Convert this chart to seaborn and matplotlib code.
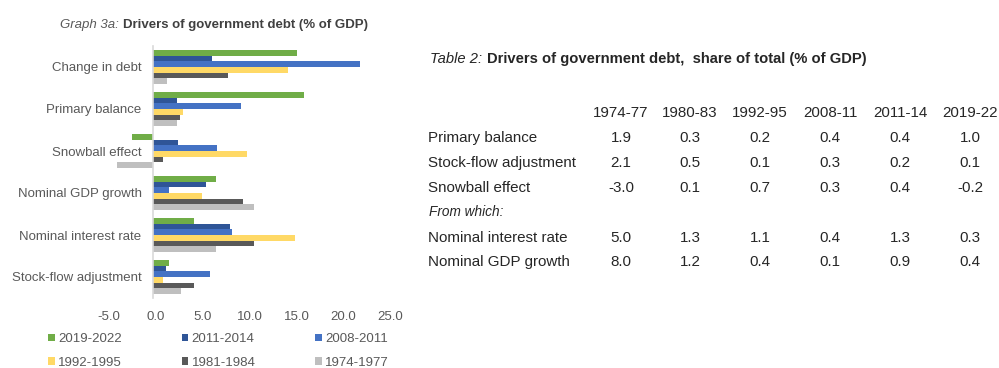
import matplotlib
matplotlib.use("Agg")
import matplotlib.pyplot as plt
from matplotlib.patches import Patch
from matplotlib.transforms import ScaledTranslation
import seaborn as sns
import pandas as pd
import numpy as np

sns.set_style("white")
plt.rcParams["font.family"] = ["Liberation Sans", "DejaVu Sans"]

# ---- Graph 3a data -------------------------------------------------------
drivers = ["Change in debt", "Primary balance", "Snowball effect",
           "Nominal GDP growth", "Nominal interest rate", "Stock-flow adjustment"]
periods = ["2019-2022", "2011-2014", "2008-2011", "1992-1995", "1981-1984", "1974-1977"]
period_colors = ["#70AD47", "#2F5597", "#4472C4", "#FFD966", "#595959", "#BFBFBF"]

# values per period, listed in the order of `drivers` (% of GDP)
v_2019_2022 = [15.3, 16.0, -2.3, 6.7, 4.3, 1.7]
v_2011_2014 = [6.2, 2.5, 2.6, 5.6, 8.2, 1.3]
v_2008_2011 = [22.0, 9.3, 6.8, 1.7, 8.4, 6.0]
v_1992_1995 = [14.3, 3.2, 10.0, 5.2, 15.1, 1.0]
v_1981_1984 = [7.9, 2.8, 1.0, 9.6, 10.7, 4.3]
v_1974_1977 = [1.4, 2.5, -3.9, 10.7, 6.7, 2.9]

x_ticks = [-5, 0, 5, 10, 15, 20, 25]

# ---- Table 2 data --------------------------------------------------------
table_periods = ["1974-77", "1980-83", "1992-95", "2008-11", "2011-14", "2019-22"]
t_primary_balance = [1.9, 0.3, 0.2, 0.4, 0.4, 1.0]
t_stock_flow = [2.1, 0.5, 0.1, 0.3, 0.2, 0.1]
t_snowball = [-3.0, 0.1, 0.7, 0.3, 0.4, -0.2]
t_interest = [5.0, 1.3, 1.1, 0.4, 1.3, 0.3]
t_gdp_growth = [8.0, 1.2, 0.4, 0.1, 0.9, 0.4]

series = [v_2019_2022, v_2011_2014, v_2008_2011, v_1992_1995, v_1981_1984, v_1974_1977]
df = pd.DataFrame(
    [(d, p, v) for p, vals in zip(periods, series) for d, v in zip(drivers, vals)],
    columns=["driver", "period", "value"],
)

W, H = 999, 368
fig = plt.figure(figsize=(W / 100, H / 100), dpi=100)


def fx(px):
    return px / W


def fy(py):
    return 1 - py / H


LABEL = "#595959"
DARK = "#262626"

# ---- bar chart -----------------------------------------------------------
ax = fig.add_axes([fx(106.5), fy(298), fx(388) - fx(106.5), fy(46) - fy(298)])
sns.barplot(data=df, x="value", y="driver", hue="period", order=drivers,
            hue_order=periods, palette=period_colors, orient="h", width=0.81,
            saturation=1, linewidth=0, legend=False, ax=ax)

ax.set_xlim(x_ticks[0], x_ticks[-1])
ax.set_xticks(x_ticks)
ax.set_xticklabels([f"{t:.1f}" for t in x_ticks])
ax.set_xlabel("")
ax.set_ylabel("")
for s in ["top", "right", "bottom"]:
    ax.spines[s].set_visible(False)
ax.spines["left"].set_position(("data", 0))
ax.spines["left"].set_color("#D9D9D9")
ax.spines["left"].set_linewidth(1.2)
ax.tick_params(axis="both", length=0, labelsize=9.5, labelcolor=LABEL)
ax.tick_params(axis="y", pad=8.5)
ax.tick_params(axis="x", pad=9.5)
ax.grid(False)
shift = ScaledTranslation(2.5 / 100, 0, fig.dpi_scale_trans)
for lab in ax.get_xticklabels():
    lab.set_transform(lab.get_transform() + shift)

handles = [Patch(facecolor=c, edgecolor="none") for c in period_colors]
order = [0, 3, 1, 4, 2, 5]
fig.legend([handles[i] for i in order], [periods[i] for i in order], ncol=3,
           loc="center left", bbox_to_anchor=(fx(48), fy(351)), frameon=False,
           fontsize=9.5, labelcolor=LABEL, handlelength=0.5, handleheight=0.5,
           handletextpad=0.25, columnspacing=4.55, labelspacing=0.85,
           borderpad=0, borderaxespad=0)

renderer = fig.canvas.get_renderer()


def two_part_title(x, y, italic_part, bold_part, size, c1, c2, gap=4):
    t1 = fig.text(fx(x), fy(y), italic_part, fontsize=size, style="italic",
                  color=c1, va="center", ha="left")
    bb = t1.get_window_extent(renderer)
    fig.text(bb.x1 / W + fx(gap), fy(y), bold_part, fontsize=size,
             fontweight="bold", color=c2, va="center", ha="left")


two_part_title(60, 25, "Graph 3a:", "Drivers of government debt (% of GDP)",
               9.5, LABEL, "#404040")

# ---- table ---------------------------------------------------------------
two_part_title(430, 59, "Table 2:",
               "Drivers of government debt,  share of total (% of GDP)",
               10.6, DARK, DARK, gap=5)

TABLE_SIZE = 10.9
col_x = [621, 690, 760, 830, 900, 970]
for cx, p in zip(col_x, table_periods):
    fig.text(fx(cx), fy(113), p, fontsize=TABLE_SIZE, color=DARK,
             ha="center", va="center")

rows = [
    ("Primary balance", t_primary_balance, 138),
    ("Stock-flow adjustment", t_stock_flow, 163),
    ("Snowball effect", t_snowball, 188),
    ("Nominal interest rate", t_interest, 238),
    ("Nominal GDP growth", t_gdp_growth, 262),
]
for name, vals, ry in rows:
    fig.text(fx(428), fy(ry), name, fontsize=TABLE_SIZE, color=DARK,
             ha="left", va="center")
    for cx, v in zip(col_x, vals):
        fig.text(fx(cx), fy(ry), f"{v:.1f}", fontsize=TABLE_SIZE, color=DARK,
                 ha="center", va="center")
fig.text(fx(429), fy(212), "From which:", fontsize=9.8, style="italic",
         color=DARK, ha="left", va="center")

fig.savefig("out.png", dpi=100, facecolor="white")
